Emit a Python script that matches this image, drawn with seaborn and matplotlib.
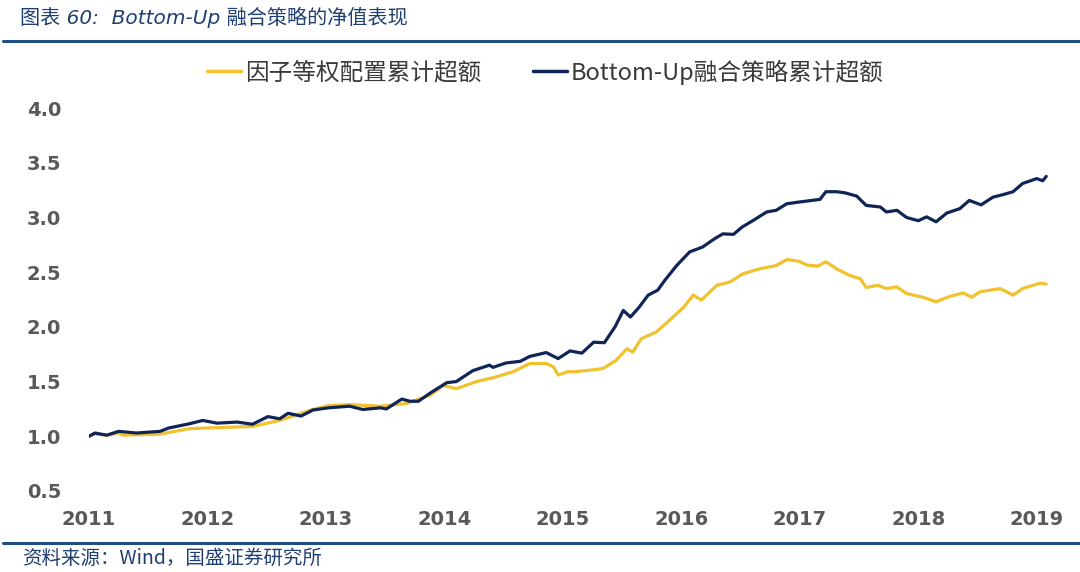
import numpy as np
import pandas as pd
import matplotlib
matplotlib.use("Agg")
import matplotlib.pyplot as plt
import seaborn as sns
from matplotlib.lines import Line2D

# ---------------- data (decimal years) ----------------
blue_t = [2011.00, 2011.05, 2011.15, 2011.25, 2011.40, 2011.60, 2011.67, 2011.85, 2011.96,
          2012.08, 2012.25, 2012.38, 2012.51, 2012.61, 2012.68, 2012.79, 2012.89,
          2013.02, 2013.20, 2013.31, 2013.46, 2013.51, 2013.64, 2013.71, 2013.78, 2013.88,
          2014.02, 2014.10, 2014.24, 2014.38, 2014.41, 2014.52, 2014.64, 2014.72, 2014.86, 2014.96,
          2015.06, 2015.16, 2015.26, 2015.35, 2015.44, 2015.51, 2015.57, 2015.64, 2015.72, 2015.80,
          2015.86, 2015.96,
          2016.07, 2016.18, 2016.28, 2016.35, 2016.44, 2016.51, 2016.61, 2016.72, 2016.80, 2016.89,
          2016.99,
          2017.17, 2017.22, 2017.31, 2017.38, 2017.48, 2017.56, 2017.68, 2017.73, 2017.82, 2017.90,
          2018.00, 2018.07, 2018.15, 2018.24, 2018.35, 2018.43, 2018.53, 2018.63, 2018.72, 2018.80,
          2018.88, 2019.00, 2019.05, 2019.08]
blue_v = [1.00, 1.03, 1.01, 1.045, 1.03, 1.045, 1.075, 1.115, 1.145,
          1.12, 1.13, 1.11, 1.18, 1.16, 1.21, 1.185, 1.24,
          1.26, 1.275, 1.245, 1.26, 1.25, 1.34, 1.32, 1.32, 1.395,
          1.49, 1.50, 1.60, 1.65, 1.63, 1.67, 1.685, 1.73, 1.765, 1.71,
          1.78, 1.76, 1.86, 1.855, 2.00, 2.15, 2.09, 2.175, 2.29, 2.335,
          2.425, 2.56,
          2.685, 2.73, 2.805, 2.85, 2.845, 2.91, 2.975, 3.05, 3.065, 3.125,
          3.14,
          3.165, 3.235, 3.235, 3.225, 3.195, 3.11, 3.095, 3.05, 3.065, 3.00,
          2.97, 3.005, 2.96, 3.04, 3.08, 3.155, 3.115, 3.185, 3.21, 3.235,
          3.31, 3.355, 3.335, 3.375]

yellow_t = [2011.00, 2011.05, 2011.15, 2011.25, 2011.29, 2011.60, 2011.85,
            2012.11, 2012.38, 2012.61, 2012.89,
            2013.02, 2013.20, 2013.46, 2013.68, 2013.88, 2013.99,
            2014.10, 2014.27, 2014.41, 2014.58, 2014.72, 2014.86, 2014.92, 2014.96,
            2015.04, 2015.09, 2015.20, 2015.34, 2015.45, 2015.54, 2015.59, 2015.66, 2015.79, 2015.90,
            2016.02, 2016.10, 2016.17, 2016.30, 2016.41, 2016.52, 2016.66, 2016.80, 2016.89, 2016.99,
            2017.06, 2017.15, 2017.22, 2017.31, 2017.42, 2017.51, 2017.56, 2017.66, 2017.73, 2017.82,
            2017.90,
            2018.04, 2018.15, 2018.27, 2018.38, 2018.45, 2018.52, 2018.69, 2018.80, 2018.88,
            2019.03, 2019.08]
yellow_v = [1.00, 1.02, 1.01, 1.03, 1.01, 1.02, 1.07,
            1.08, 1.09, 1.145, 1.245,
            1.28, 1.29, 1.275, 1.30, 1.375, 1.465,
            1.435, 1.50, 1.535, 1.59, 1.665, 1.665, 1.635, 1.56,
            1.59, 1.59, 1.60, 1.62, 1.695, 1.80, 1.77, 1.89, 1.955, 2.06,
            2.18, 2.29, 2.245, 2.38, 2.41, 2.485, 2.53, 2.56, 2.615, 2.60,
            2.565, 2.555, 2.595, 2.53, 2.47, 2.44, 2.36, 2.38, 2.35, 2.365,
            2.305,
            2.27, 2.23, 2.28, 2.31, 2.27, 2.32, 2.35, 2.29, 2.35,
            2.40, 2.39]

series_names = ["因子等权配置累计超额", "Bottom-Up融合策略累计超额"]
year_ticks = [2011, 2012, 2013, 2014, 2015, 2016, 2017, 2018, 2019]
y_ticks = [0.5, 1.0, 1.5, 2.0, 2.5, 3.0, 3.5, 4.0]
title_text = "图表 60:  Bottom-Up 融合策略的净值表现"
source_text = "资料来源：Wind，国盛证券研究所"

# ---------------- styling ----------------
sns.set_theme(style="white")
plt.rcParams["font.family"] = ["Noto Sans CJK SC", "DejaVu Sans"]
plt.rcParams["axes.unicode_minus"] = False

YELLOW = "#F2C12E"
NAVY = "#0F2557"
TICK_GRAY = "#595959"
TITLE_BLUE = "#1F3F73"
RULE_BLUE = "#1F4E85"

df = pd.concat([
    pd.DataFrame({"t": yellow_t, "v": yellow_v, "s": series_names[0]}),
    pd.DataFrame({"t": blue_t, "v": blue_v, "s": series_names[1]}),
], ignore_index=True)

fig = plt.figure(figsize=(10.8, 5.72), dpi=100)
ax = fig.add_axes([89 / 1080, 1 - 491 / 572, (1051 - 89) / 1080, (491 - 108) / 572])

sns.lineplot(data=df, x="t", y="v", hue="s", hue_order=series_names,
             palette=[YELLOW, NAVY], linewidth=2.3, ax=ax, legend=False,
             estimator=None, sort=False)

ax.set_xlim(2011, 2019.12)
ax.set_ylim(0.5, 4.0)
ax.set_xticks(year_ticks)
ax.set_xticklabels([str(y) for y in year_ticks])
ax.set_yticks(y_ticks)
ax.set_yticklabels([f"{v:.1f}" for v in y_ticks])
ax.set_xlabel("")
ax.set_ylabel("")
for sp in ax.spines.values():
    sp.set_visible(False)
ax.grid(False)
ax.tick_params(axis="both", length=0, labelsize=14, colors=TICK_GRAY)
ax.tick_params(axis="y", pad=20)
ax.tick_params(axis="x", pad=14)
for lab in ax.get_xticklabels() + ax.get_yticklabels():
    lab.set_fontfamily(["DejaVu Sans"])
    lab.set_fontweight("bold")

# legend
handles = [Line2D([0], [0], color=YELLOW, lw=2.5), Line2D([0], [0], color=NAVY, lw=2.5)]
fig.legend(handles, series_names, loc="center", bbox_to_anchor=(0.505, 1 - 72 / 572),
           ncol=2, frameon=False, fontsize=17, handlelength=1.45, handletextpad=0.15,
           columnspacing=2.2, labelcolor="#3a3a3a")

# title and rules
fig.text(20 / 1080, 1 - 17 / 572, title_text, fontsize=14.5, color=TITLE_BLUE,
         style="italic", ha="left", va="center",
         family=["DejaVu Sans", "Noto Sans CJK SC"])
fig.add_artist(Line2D([3 / 1080, 1.0], [1 - 41 / 572] * 2, color=RULE_BLUE, lw=2.2,
                      transform=fig.transFigure))
fig.add_artist(Line2D([3 / 1080, 1.0], [1 - 543 / 572] * 2, color=RULE_BLUE, lw=2.2,
                      transform=fig.transFigure))
fig.text(22 / 1080, 1 - 558 / 572, source_text, fontsize=14, color=TITLE_BLUE,
         style="italic", ha="left", va="center",
         family=["Noto Sans CJK SC", "DejaVu Sans"])

fig.savefig("out.png", dpi=100)
